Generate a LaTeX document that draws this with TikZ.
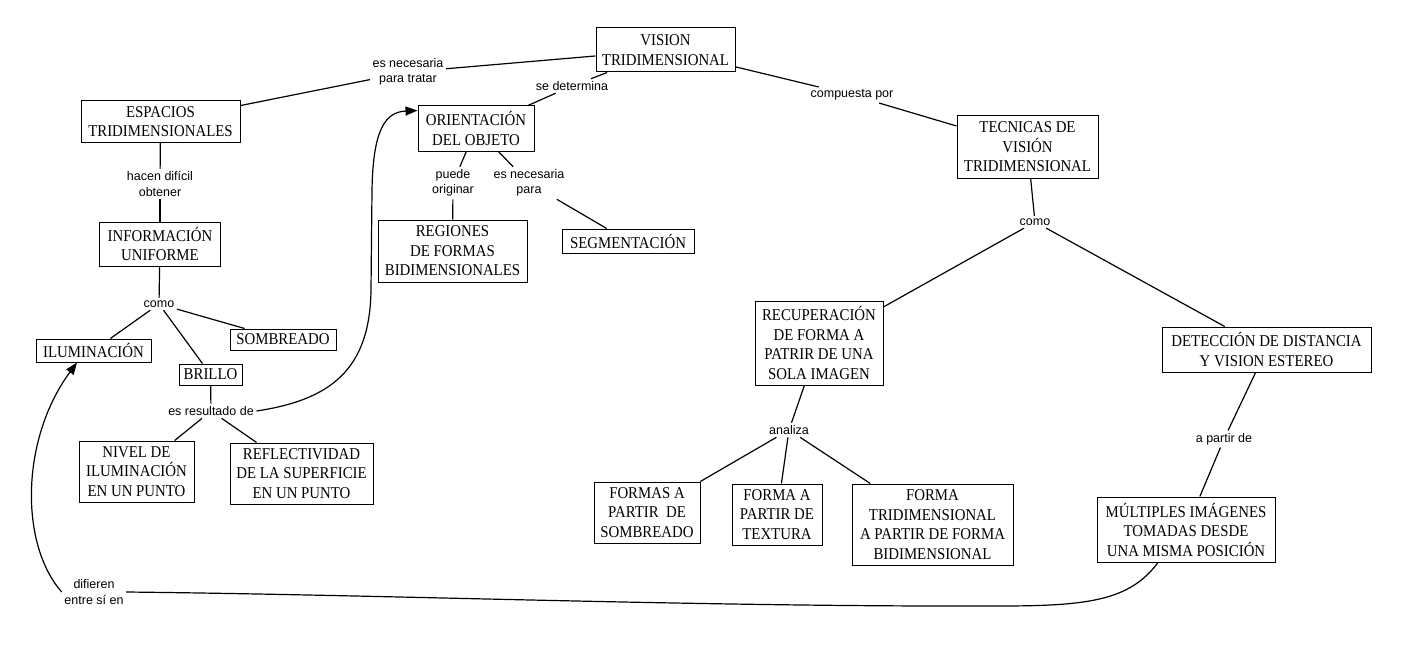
\documentclass[tikz,border=0pt]{standalone}
\usepackage{fontspec}
\setmainfont{Liberation Serif}[FakeStretch=0.9]
\newfontfamily\lblfont{Liberation Sans}
\usetikzlibrary{arrows.meta}
\tikzset{
  box/.style={draw=black, line width=1pt, rectangle, inner sep=1pt, align=center,
    font=\fontsize{16.5}{19.5}\selectfont, text=black},
  lbl/.style={inner sep=2.5pt, align=center, font=\lblfont\fontsize{12.5}{15.5}\selectfont, text=black},
  con/.style={draw=black, line width=1.2pt},
  arr/.style={con, -{Triangle[length=12pt,width=9pt]}}
}
\begin{document}
\begin{tikzpicture}[x=1pt,y=-1pt]
\fill[white] (0,0) rectangle (1412,666);
\useasboundingbox (0,0) rectangle (1412,666);
% boxes
\node[box, minimum width=139pt, minimum height=44pt] (vis) at (665.5,50) {VISION\\TRIDIMENSIONAL};
\node[box, minimum width=159pt, minimum height=41pt] (esp) at (160.5,121.5) {ESPACIOS\\TRIDIMENSIONALES};
\node[box, minimum width=116pt, minimum height=45pt] (ori) at (476,128.5) {ORIENTACIÓN\\DEL OBJETO};
\node[box, minimum width=149pt, minimum height=62pt] (reg) at (452.5,251) {REGIONES\\DE FORMAS\\BIDIMENSIONALES};
\node[box, minimum width=132pt, minimum height=24pt] (seg) at (628,241) {SEGMENTACIÓN};
\node[box, minimum width=141pt, minimum height=62pt] (tec) at (1027.5,147) {TECNICAS DE\\VISIÓN\\TRIDIMENSIONAL};
\node[box, minimum width=121pt, minimum height=44pt] (inf) at (160,244) {INFORMACIÓN\\UNIFORME};
\node[box, minimum width=115pt, minimum height=23pt] (ilu) at (93.5,350.5) {ILUMINACIÓN};
\node[box, minimum width=106pt, minimum height=21pt] (som) at (283,339.5) {SOMBREADO};
\node[box, minimum width=63pt, minimum height=21pt] (bri) at (210.5,374.5) {BRILLO};
\node[box, minimum width=115pt, minimum height=61pt] (niv) at (136.5,471.5) {NIVEL DE\\ILUMINACIÓN\\EN UN PUNTO};
\node[box, minimum width=143pt, minimum height=61pt] (ref) at (301.5,473.5) {REFLECTIVIDAD\\DE LA SUPERFICIE\\EN UN PUNTO};
\node[box, minimum width=128pt, minimum height=84pt] (rec) at (819,343) {RECUPERACIÓN\\DE FORMA A\\PATRIR DE UNA\\SOLA IMAGEN};
\node[box, minimum width=106pt, minimum height=61pt] (fsom) at (647,512.5) {FORMAS A\\PARTIR\ \ DE\\SOMBREADO};
\node[box, minimum width=90pt, minimum height=61pt] (ftex) at (777,514.5) {FORMA A\\PARTIR DE\\TEXTURA};
\node[box, minimum width=161pt, minimum height=81pt] (ftri) at (932.5,524.5) {FORMA\\TRIDIMENSIONAL\\A PARTIR DE FORMA\\BIDIMENSIONAL};
\node[box, minimum width=209pt, minimum height=45pt] (det) at (1266.5,349.5) {DETECCIÓN DE DISTANCIA\\Y VISION ESTEREO};
\node[box, minimum width=178pt, minimum height=65pt] (mul) at (1186,529.5) {MÚLTIPLES IMÁGENES\\TOMADAS DESDE\\UNA MISMA POSICIÓN};
% labels
\node[lbl] (lNec) at (408,72) {es necesaria\\para tratar};
\node[lbl] (lDet) at (572,86) {se determina};
\node[lbl] (lComp) at (852,95) {compuesta por};
\node[lbl] (lHac) at (160,184) {hacen difícil\\obtener};
\node[lbl] (lComoA) at (159,304) {como};
\node[lbl] (lRes) at (211,411) {es resultado de};
\node[lbl] (lPue) at (453,183) {puede\\originar};
\node[lbl] (lNecP) at (529,183) {es necesaria\\para};
\node[lbl] (lComoB) at (1035,222) {como};
\node[lbl] (lAna) at (789,430) {analiza};
\node[lbl] (lApa) at (1224,439) {a partir de};
\node[lbl] (lDif) at (94,592) {difieren\\entre sí en};
% straight connectors
\draw[con] (vis) -- (lNec);
\draw[con] (lNec) -- (esp);
\draw[con] (vis) -- (lDet);
\draw[con] (lDet) -- (ori);
\draw[con] (vis) -- (lComp);
\draw[con] (lComp) -- (tec);
\draw[con] (esp) -- (lHac);
\draw[con] (lHac) -- (inf);
\draw[con] (inf) -- (lComoA);
\draw[con] (lComoA) -- (ilu);
\draw[con] (lComoA) -- (bri);
\draw[con] (lComoA) -- (som);
\draw[con] (bri) -- (lRes);
\draw[con] (lRes) -- (niv);
\draw[con] (lRes) -- (ref);
\draw[con] (ori) -- (lPue);
\draw[con] (lPue) -- (reg);
\draw[con] (ori) -- (lNecP);
\draw[con] (lNecP) -- (seg);
\draw[con] (tec) -- (lComoB);
\draw[con] (lComoB) -- (rec);
\draw[con] (lComoB) -- (det);
\draw[con] (rec) -- (lAna);
\draw[con] (lAna) -- (fsom);
\draw[con] (lAna) -- (ftex);
\draw[con] (lAna) -- (ftri);
\draw[con] (det) -- (lApa);
\draw[con] (lApa) -- (mul);
% curved connectors
\draw[arr] (lRes.east) .. controls (330,400) and (370,370) .. (371,290)
  -- (372,190) .. controls (373,130) and (385,112) .. ([yshift=-5pt]ori.north west);
\draw[con] ([xshift=-28pt]mul.south) .. controls (1130,600) and (1090,606) .. (1000,606)
  .. controls (700,607) and (400,595) .. (lDif.east);
\draw[arr] (lDif.west) .. controls (20,545) and (20,440) .. ([xshift=-16.5pt]ilu.south);
\end{tikzpicture}
\end{document}
